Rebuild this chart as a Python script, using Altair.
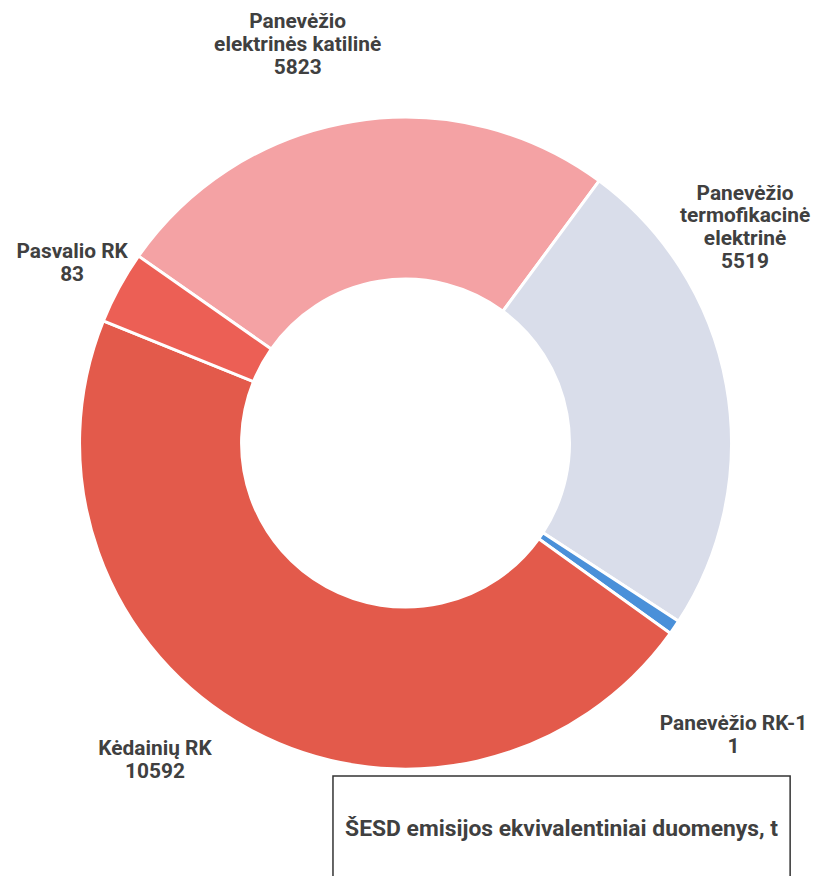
import math
import altair as alt
import pandas as pd

# ---- data ----
categories = [
    "Panevėžio elektrinės katilinė",
    "Panevėžio termofikacinė elektrinė",
    "Panevėžio RK-1",
    "Kėdainių RK",
    "Pasvalio RK",
]
label_names = [
    "Panevėžio\nelektrinės katilinė",
    "Panevėžio\ntermofikacinė\nelektrinė",
    "Panevėžio RK-1",
    "Kėdainių RK",
    "Pasvalio RK",
]
label_values = [5823, 5519, 1, 10592, 83]
# slice sizes as they are drawn in the picture (small slices are enlarged there)
slice_sizes = [5823, 5519, 165, 10592, 826]
colors = ["#F4A2A4", "#D9DDEA", "#4A90D9", "#E35A4B", "#EC5F55"]
box_title = ["ŠESD emisijos ekvivalentiniai duomenys, t"]

df = pd.DataFrame({
    "cat": categories,
    "name": label_names,
    "value": label_values,
    "size": slice_sizes,
    "order": list(range(len(categories))),
})
df["label"] = df["name"] + "\n" + df["value"].astype(str)

total = float(sum(slice_sizes))
start = math.radians(-55)
theta_scale = alt.Scale(domain=[0, total], range=[start, start + 2 * math.pi])

FONT = "Roboto, Liberation Sans, Arial, sans-serif"
TXT = "#404040"

arcs = alt.Chart(df).mark_arc(
    innerRadius=165, outerRadius=328, stroke="white", strokeWidth=3
).encode(
    theta=alt.Theta("size:Q", stack=True, scale=theta_scale),
    order=alt.Order("order:Q"),
    color=alt.Color("cat:N", scale=alt.Scale(domain=categories, range=colors), legend=None),
)

label_base = alt.Chart(df).transform_window(
    cum="sum(size)", sort=[alt.SortField("order")], frame=[None, 0]
).transform_calculate(mid="datum.cum - datum.size / 2")

# per-label layout offsets (radius, dx, dy); anchor is the first text line
offsets = {
    "Panevėžio elektrinės katilinė": (400, -44, -29),
    "Panevėžio termofikacinė elektrinė": (400, -52, -180),
    "Panevėžio RK-1": (400, 0, 57),
    "Kėdainių RK": (400, -59, -42),
    "Pasvalio RK": (400, 16, -1),
}
labels = []
for c in categories:
    r, dx, dy = offsets[c]
    labels.append(
        label_base.transform_filter(alt.datum.cat == c).mark_text(
            radius=r, dx=dx, dy=dy, lineBreak="\n", font=FONT, fontSize=21,
            fontWeight="bold", color=TXT, lineHeight=23, align="center", baseline="middle",
        ).encode(theta=alt.Theta("mid:Q", scale=theta_scale), text="label:N")
    )

box_df = pd.DataFrame({"t": box_title})
box = alt.Chart(box_df).mark_rect(
    fill="white", stroke="#333333", strokeWidth=1.5
).encode(x=alt.value(327), x2=alt.value(787), y=alt.value(765), y2=alt.value(900))
box_text = alt.Chart(box_df).mark_text(
    font=FONT, fontSize=23, fontWeight="bold", color=TXT, align="center", baseline="middle"
).encode(x=alt.value(557), y=alt.value(818), text="t:N")

chart = alt.layer(arcs, *labels, box, box_text).properties(
    width=800, height=860, padding=0
).configure_view(stroke=None)

chart.save("out.html", embed_options={"renderer": "svg", "actions": False})
